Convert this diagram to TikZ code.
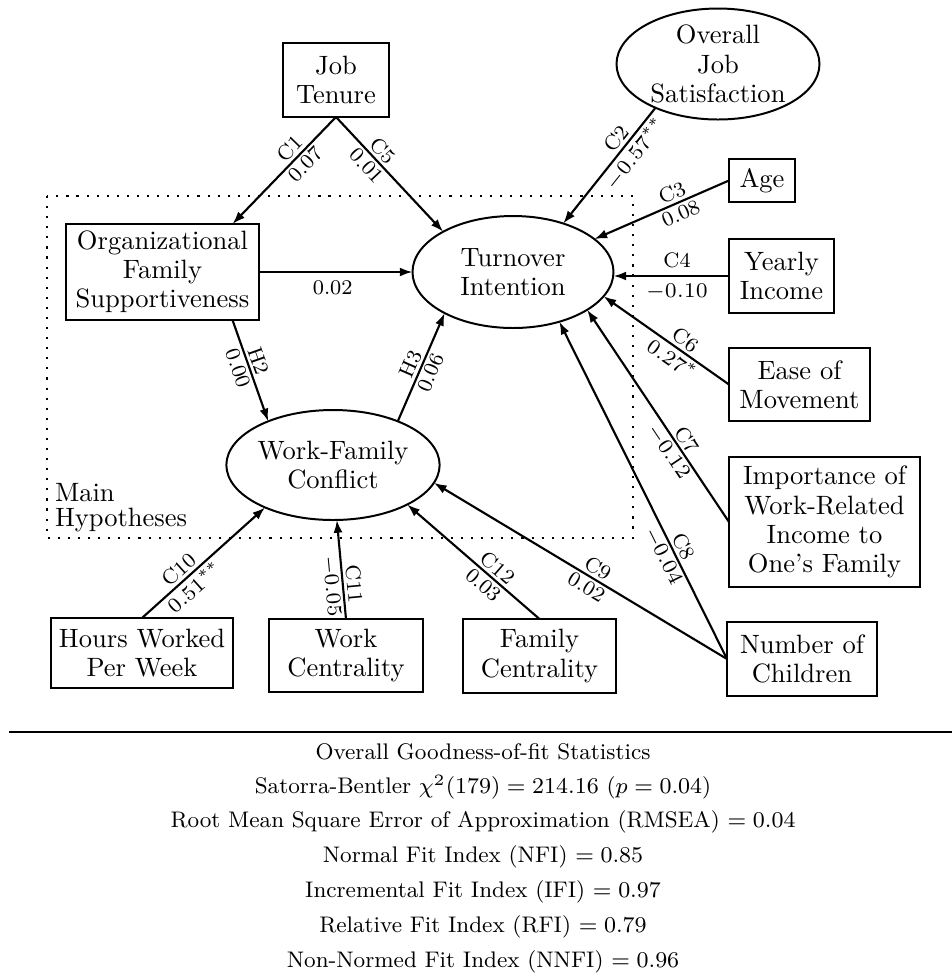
\RequirePackage{fix-cm}
\documentclass[tikz,border=0pt]{standalone}
\usetikzlibrary{arrows.meta,shapes.geometric}
% one drawing unit
\def\pxu{0.377pt}
\begin{document}
\begin{tikzpicture}[x=\pxu, y=-\pxu,
  every node/.style={inner sep=0pt, outer sep=0pt},
  sz/.style 2 args={minimum width=#1*\pxu, minimum height=#2*\pxu},
  var/.style={draw, line width=0.75pt, rectangle, align=center,
              font=\fontsize{10}{11}\selectfont},
  lat/.style={draw, line width=0.75pt, ellipse, align=center,
              font=\fontsize{10}{11}\selectfont},
  link/.style={line width=0.8pt, -{Latex[length=4.8pt,width=3.4pt]}},
  lab/.style={font=\fontsize{7.9}{8}\selectfont, sloped, inner sep=1.4pt},
  region/.style={line width=0.8pt, dash pattern=on 0.8pt off 3pt},
  stat/.style={font=\fontsize{8.5}{10}\selectfont},
]
\useasboundingbox (0,0) rectangle (952,976);

% region of the main hypotheses
\draw[region] (47,196) rectangle (633,538);
\node[anchor=north west, align=left, font=\fontsize{10}{9.6}\selectfont]
  (mh) at (55,483) {Main\\Hypotheses};

% variables
\node[var, sz={106}{74}]  (jt)  at (336,80)      {Job\\Tenure};
\node[lat, sz={203}{111}] (ojs) at (718,64)      {Overall\\Job\\Satisfaction};
\node[var, sz={66}{43}]   (age) at (762,180.5)   {Age};
\node[var, sz={105}{74}]  (yi)  at (781.5,276)   {Yearly\\Income};
\node[lat, sz={201}{112}] (ti)  at (513,272)     {Turnover\\Intention};
\node[var, sz={193}{96}]  (ofs) at (162.5,272)   {Organizational\\Family\\Supportiveness};
\node[lat, sz={200}{110}] (wfc) at (333,465)     {Work-Family\\Conflict};
\node[var, sz={141}{73}]  (em)  at (799.5,384.5) {Ease of\\Movement};
\node[var, sz={191}{130}] (imp) at (824.5,522)   {Importance of\\Work-Related\\Income to\\One's Family};
\node[var, sz={150}{74}]  (nc)  at (802,659)     {Number of\\Children};
\node[var, sz={182}{70}]  (hw)  at (142,653)     {Hours Worked\\Per Week};
\node[var, sz={154}{73}]  (wc)  at (346,655.5)   {Work\\Centrality};
\node[var, sz={153}{74}]  (fc)  at (539.5,656)   {Family\\Centrality};

% paths with their labels and estimates
\draw[link] (jt.south) -- ([shift={(70,0)}]ofs.north)
  node[lab, pos=.37, above] {C1} node[lab, pos=.37, below] {0.07};
\draw[link] (jt.south) -- (ti.150)
  node[lab, pos=.36, above] {C5} node[lab, pos=.36, below] {0.01};
\draw[link] (ofs.east) -- (ti.west)
  node[lab, pos=.48, below=2pt] {0.02};
\draw[link] (ojs.215) -- (ti.44)
  node[lab, pos=.33, above] {C2} node[lab, pos=.33, below] {$-0.57^{**}$};
\draw[link] (age.west) -- (ti.22)
  node[lab, pos=.39, above] {C3} node[lab, pos=.39, below] {0.08};
\draw[link] (yi.west) -- (ti.east |- yi.west)
  node[lab, pos=.45, above=1.5pt] {C4} node[lab, pos=.45, below=1.5pt] {$-0.10$};
\draw[link] (em.west) -- (ti.-15)
  node[lab, pos=.40, above] {C6} node[lab, pos=.40, below] {$0.27^{*}$};
\draw[link] (imp.west) -- (ti.-27)
  node[lab, pos=.36, above] {C7} node[lab, pos=.36, below] {$-0.12$};
\draw[link] (nc.west) -- (ti.-47)
  node[lab, pos=.32, above] {C8} node[lab, pos=.32, below] {$-0.04$};
\draw[link] (nc.west) -- (wfc.-10)
  node[lab, pos=.46, above] {C9} node[lab, pos=.46, below] {0.02};
\draw[link] (fc.north) -- (wfc.-28)
  node[lab, pos=.37, above] {C12} node[lab, pos=.37, below] {0.03};
\draw[link] (wc.north) -- (wfc.-86)
  node[lab, pos=.34, above] {C11} node[lab, pos=.34, below] {$-0.05$};
\draw[link] (hw.north) -- (wfc.212)
  node[lab, pos=.36, above] {C10} node[lab, pos=.36, below] {$0.51^{**}$};
\draw[link] ([shift={(70,0)}]ofs.south) -- (wfc.146)
  node[lab, pos=.44, above] {H2} node[lab, pos=.44, below] {0.00};
\draw[link] (wfc.34) -- (ti.211)
  node[lab, pos=.49, above] {H3} node[lab, pos=.49, below] {0.06};

% fit statistics
\draw[line width=0.8pt] (9,732) -- (952,732);
\node[stat] (s1) at (483,752) {Overall Goodness-of-fit Statistics};
\node[stat] (s2) at (483,787) {Satorra-Bentler $\chi^2(179) = 214.16$ ($p = 0.04$)};
\node[stat] (s3) at (483,822) {Root Mean Square Error of Approximation (RMSEA) $= 0.04$};
\node[stat] (s4) at (483,857) {Normal Fit Index (NFI) $= 0.85$};
\node[stat] (s5) at (483,892) {Incremental Fit Index (IFI) $= 0.97$};
\node[stat] (s6) at (483,927) {Relative Fit Index (RFI) $= 0.79$};
\node[stat] (s7) at (483,962) {Non-Normed Fit Index (NNFI) $= 0.96$};
\end{tikzpicture}
\end{document}
